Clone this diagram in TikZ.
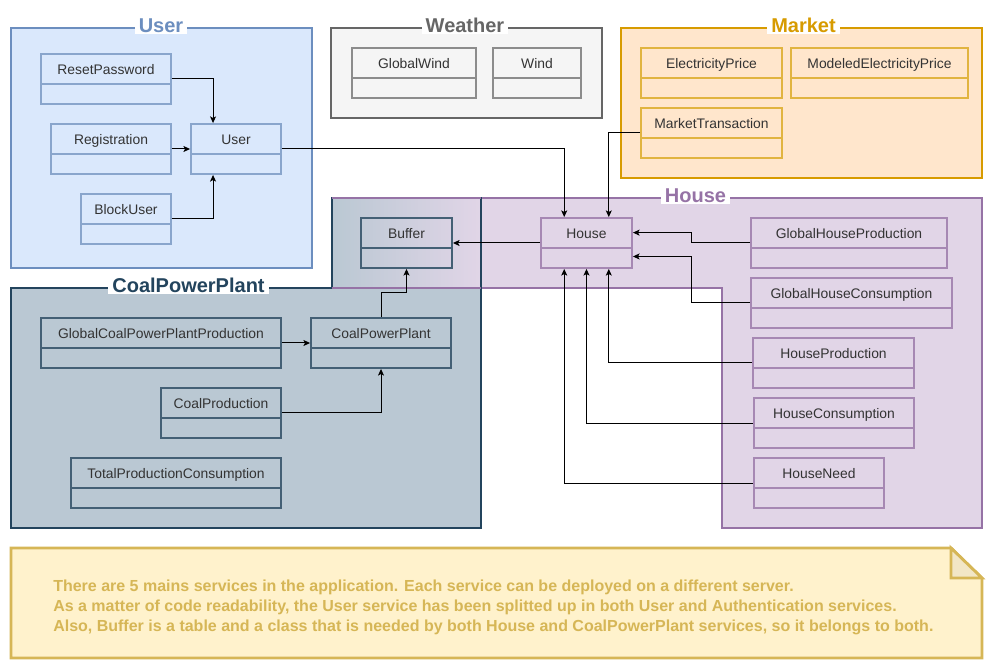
\documentclass[tikz,border=0pt]{standalone}
\usepackage{fontspec}
\setmainfont{Liberation Sans}
\usetikzlibrary{fit,calc,arrows.meta}
\definecolor{ufill}{HTML}{DAE8FC}\definecolor{ustroke}{HTML}{6C8EBF}
\definecolor{wfill}{HTML}{F5F5F5}\definecolor{wstroke}{HTML}{666666}
\definecolor{mfill}{HTML}{FFE6CC}\definecolor{mstroke}{HTML}{D79B00}
\definecolor{hfill}{HTML}{E1D5E7}\definecolor{hstroke}{HTML}{9673A6}
\definecolor{cfill}{HTML}{BAC8D3}\definecolor{cstroke}{HTML}{23445D}
\definecolor{nfill}{HTML}{FFF2CC}\definecolor{nstroke}{HTML}{D6B656}
\definecolor{nfold}{HTML}{F2E6C6}
\definecolor{ctext}{HTML}{333333}
\tikzset{
  grp/.style={line width=2.1pt},
  cls/.style={draw, line width=1.4pt, inner sep=0pt},
  ucls/.style={cls, draw=ustroke!80!white, fill=ufill},
  wcls/.style={cls, draw=wstroke!75!white, fill=wfill},
  mcls/.style={cls, draw=mstroke!75!white, fill=mfill},
  hcls/.style={cls, draw=hstroke!85!white, fill=hfill},
  ccls/.style={cls, draw=cstroke!85!white, fill=cfill},
  bcls/.style={cls, draw=cstroke!85!white},
  clabel/.style={font=\fontsize{10.4pt}{12pt}\selectfont, text=ctext, inner sep=0pt, text height=7.45pt, text depth=0pt},
  gtitle/.style={font=\fontsize{15pt}{18pt}\selectfont\bfseries, anchor=base, fill=white, inner xsep=3pt, inner ysep=1pt, text depth=0pt},
  arr/.style={draw=black, line width=0.75pt, -{Stealth[length=5pt,width=4.5pt,inset=1.2pt]}},
  ntext/.style={font=\fontsize{12pt}{15pt}\selectfont\bfseries, text=nstroke, anchor=base west, inner sep=0pt},
}
\newcommand{\umlclass}[7]{%
  \path (#2,#3) coordinate (#1-a) (#4,#5) coordinate (#1-b);
  \node[#7, fit=(#1-a)(#1-b)] (#1) {};
  \draw[#7] (#2,#3+30) -- (#4,#3+30);
  \node[clabel] (#1-t) at ($(#1.north)+(0,16)$) {#6};
}
\begin{document}
\begin{tikzpicture}[x=0.75pt,y=-0.75pt]
\useasboundingbox (0,0) rectangle (993,670);
\fill[white] (0,0) rectangle (993,670);
% groups
\draw[grp, draw=ustroke, fill=ufill] (11,28) rectangle (312,268);
\draw[grp, draw=wstroke, fill=wfill] (331,28) rectangle (602,118);
\draw[grp, draw=mstroke, fill=mfill] (621,28) rectangle (982,178);
\fill[hfill] (332,198) -- (982,198) -- (982,528) -- (722,528) -- (722,288) -- (332,288) -- cycle;
\fill[cfill] (11,288) -- (332,288) -- (332,198) -- (481,198) -- (481,528) -- (11,528) -- cycle;
\shade[left color=cfill, right color=hfill] (332,198) rectangle (481,288);
\draw[grp, draw=hstroke] (332,198) -- (982,198) -- (982,528) -- (722,528) -- (722,288) -- (332,288) -- cycle;
\draw[grp, draw=cstroke] (11,288) -- (332,288) -- (332,198) -- (481,198) -- (481,528) -- (11,528) -- cycle;
\draw[grp, draw=hstroke] (332,198) -- (481,198);
\draw[grp, draw=hstroke] (332,288) -- (481,288);
% titles
\node[gtitle, text=ustroke] (tuser) at (161,32.5) {User};
\node[gtitle, text=wstroke] (tweather) at (465,32.5) {Weather};
\node[gtitle, text=mstroke] (tmarket) at (803.5,32.5) {Market};
\node[gtitle, text=hstroke] (thouse) at (695.5,202.5) {House};
\node[gtitle, text=cstroke] (tcoal) at (188.5,292.5) {CoalPowerPlant};
% classes
\umlclass{resetpw}{41}{54}{171}{104}{ResetPassword}{ucls}
\umlclass{registration}{51}{124}{171}{174}{Registration}{ucls}
\umlclass{user}{191}{124}{281}{174}{User}{ucls}
\umlclass{blockuser}{81}{194}{171}{244}{BlockUser}{ucls}
\umlclass{globalwind}{352}{48}{476}{98}{GlobalWind}{wcls}
\umlclass{wind}{493}{48}{581}{98}{Wind}{wcls}
\umlclass{elecprice}{641}{48}{782}{98}{ElectricityPrice}{mcls}
\umlclass{modelec}{791}{48}{968}{98}{ModeledElectricityPrice}{mcls}
\umlclass{markettx}{641}{108}{782}{158}{MarketTransaction}{mcls}
\umlclass{buffer}{361}{218}{452}{268}{Buffer}{bcls}
\umlclass{house}{541}{218}{632}{268}{House}{hcls}
\umlclass{ghp}{751}{218}{947}{268}{GlobalHouseProduction}{hcls}
\umlclass{ghc}{751}{278}{952}{328}{GlobalHouseConsumption}{hcls}
\umlclass{hp}{753}{338}{914}{388}{HouseProduction}{hcls}
\umlclass{hc}{754}{398}{914}{448}{HouseConsumption}{hcls}
\umlclass{hn}{754}{458}{884}{508}{HouseNeed}{hcls}
\umlclass{gcpp}{41}{318}{281}{368}{GlobalCoalPowerPlantProduction}{ccls}
\umlclass{cpp}{311}{318}{451}{368}{CoalPowerPlant}{ccls}
\umlclass{coalprod}{161}{388}{281}{438}{CoalProduction}{ccls}
\umlclass{tpc}{71}{458}{281}{508}{TotalProductionConsumption}{ccls}
% connectors
\draw[arr] (resetpw.east) -| ($(user.north west)!0.25!(user.north east)$);
\draw[arr] (registration.east) -- (user.west);
\draw[arr] (blockuser.east) -| ($(user.south west)!0.25!(user.south east)$);
\draw[arr] (user.east) -| ($(house.north west)!0.26!(house.north east)$);
\draw[arr] (markettx.west) -| ($(house.north west)!0.74!(house.north east)$);
\draw[arr] (house.west) -- (buffer.east);
\draw[arr] (ghp.west) -- ($(ghp.west)!0.5!(ghp.west -| house.east)$) |- ($(house.north east)!0.3!(house.south east)$);
\draw[arr] (ghc.west) -- ($(ghc.west)!0.5!(ghc.west -| house.east)$) |- ($(house.north east)!0.76!(house.south east)$);
\draw[arr] (hp.west) -| ($(house.south west)!0.74!(house.south east)$);
\draw[arr] (hc.west) -| (house.south);
\draw[arr] (hn.west) -| ($(house.south west)!0.26!(house.south east)$);
\draw[arr] (gcpp.east) -- (cpp.west);
\draw[arr] (coalprod.east) -| (cpp.south);
\draw[arr] (cpp.north) -- ($(cpp.north)!0.5!(cpp.north |- buffer.south)$) -| (buffer.south);
% note
\draw[grp, draw=nstroke, fill=nfill] (11,548) -- (951,548) -- (982,578) -- (982,658) -- (11,658) -- cycle;
\draw[grp, draw=nstroke, fill=nfold] (951,548) -- (951,578) -- (982,578) -- cycle;
\node[ntext] (n1) at (53,591) {There are 5 mains services in the application. Each service can be deployed on a different server.};
\node[ntext] (n2) at (53,611) {As a matter of code readability, the User service has been splitted up in both User and Authentication services.};
\node[ntext] (n3) at (53,631) {Also, Buffer is a table and a class that is needed by both House and CoalPowerPlant services, so it belongs to both.};
\end{tikzpicture}
\end{document}
